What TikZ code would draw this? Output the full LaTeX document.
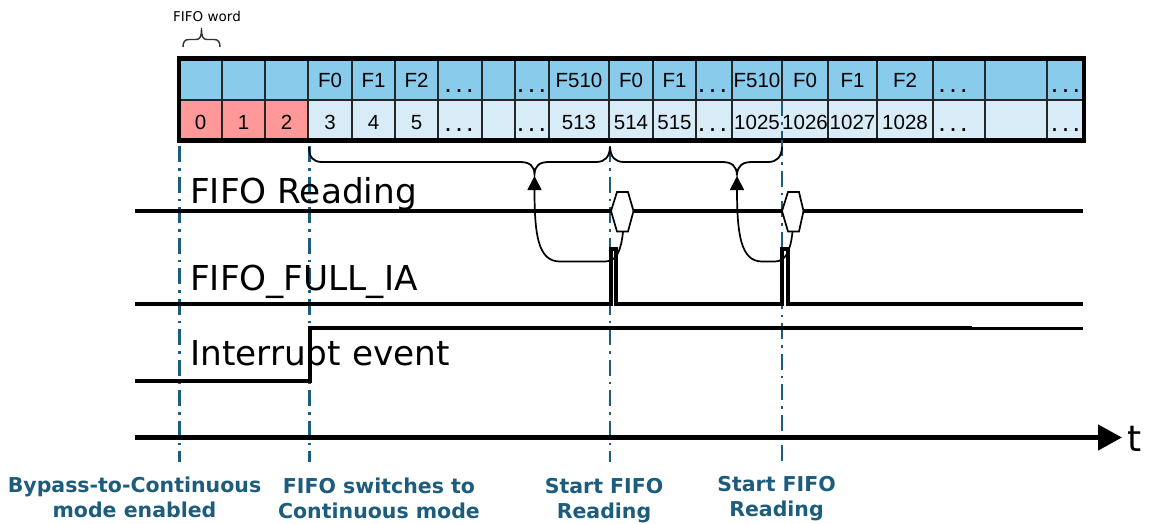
\documentclass[tikz,border=0pt]{standalone}
\usepackage{fontspec}
\setmainfont{DejaVu Sans}
\newfontfamily\arialf{Liberation Sans}
\usetikzlibrary{arrows.meta}
\definecolor{topblue}{RGB}{137,203,234}
\definecolor{lowblue}{RGB}{216,236,247}
\definecolor{redcell}{RGB}{255,153,153}
\definecolor{mteal}{RGB}{28,92,125}
\newcommand{\mydots}{{\fontsize{27}{27}\selectfont.\kern3.3pt.\kern3.3pt.}}
\begin{document}
\begin{tikzpicture}[x=1pt,y=-1pt,
  gridl/.style={draw=black!85, line width=1.8pt},
  outer/.style={draw=black, line width=4.8pt},
  cellt/.style={font=\arialf\fontsize{20.5}{20.5}\selectfont, anchor=base, inner sep=0pt},
  sig/.style={line width=4pt, line cap=butt, line join=miter},
  hexs/.style={draw=black, line width=1.7pt, fill=white, line join=miter},
  vline/.style={draw=mteal, line width=2.3pt, dash pattern=on 16pt off 6pt on 2.5pt off 6pt},
  bracel/.style={draw=black, line width=1.8pt},
  curvarr/.style={line width=1.7pt, -{Triangle[length=14pt,width=14pt]}},
  signame/.style={font=\fontsize{34.3}{34.3}\selectfont, anchor=base west, inner sep=0pt},
  lab/.style={font=\bfseries\fontsize{20.5}{25}\selectfont, text=mteal, align=center, anchor=base, inner sep=0pt}
]
\useasboundingbox (0,0) rectangle (1152,523);

% ---- FIFO word label and small brace
\node[font=\fontsize{13.5}{13.5}\selectfont, anchor=base west, inner sep=0pt] (fw) at (173,21.7) {FIFO word};
\draw[draw=black!80, line width=1.4pt] (183,47) .. controls (183,41.5) and (185,39.5) .. (189,39.5) -- (196,39.5)
  .. controls (200,39.5) and (201.5,37) .. (201.5,28)
  .. controls (201.5,37) and (203,39.5) .. (207,39.5) -- (214,39.5)
  .. controls (218,39.5) and (220,41.5) .. (220,47);

% ---- table
\fill[topblue] (179,58.5) rectangle (1084,100);
\fill[lowblue] (179,100) rectangle (1084,140.5);
\fill[redcell] (179,100) rectangle (308,140.5);
% dashed marker inside the table
\draw[vline] (782,100) -- (782,140);
\draw[gridl] (179,100) -- (1084,100);
\foreach \x in {222,265,308,352,395,438,482,515,549,609,653,696,732,828,877,933,985,1047}
  \draw[gridl] (\x,58.5) -- (\x,140.5);
\draw[gridl] (782,58.5) -- (782,100);
\draw[outer] (179,58.5) rectangle (1084,140.5);

\foreach \n/\x/\s in {t3/330/F0, t4/373.5/F1, t5/416.5/F2, t9/579/F510, t10/631/F0, t11/674.5/F1,
    t13/757/F510, t14/805/F0, t15/852.5/F1, t16/905/F2}
  \node[cellt] (\n) at (\x,87) {\s};
\foreach \n/\x/\s in {b0/200.5/0, b1/243.5/1, b2/286.5/2, b3/330/3, b4/373.5/4, b5/416.5/5,
    b9/579/513, b10/631/514, b11/674.5/515, b13/757/1025, b14/805/1026, b15/852.5/1027, b16/905/1028}
  \node[cellt] (\n) at (\x,129.5) {\s};
\foreach \n/\x in {6/459, 8/531.5, 12/712.5, 17/953, 19/1065.5}{
  \node[cellt] (td\n) at (\x,92) {\mydots};
  \node[cellt] (bd\n) at (\x,131.5) {\mydots};
}

% ---- vertical dash-dot markers
\draw[vline] (179.5,146) -- (179.5,462);
\draw[vline] (309.5,146) -- (309.5,462);
\draw[vline] (610,146) -- (610,462);
\draw[vline] (782,140) -- (782,462);

% ---- big braces
\coordinate (tip1) at (534.5,176);
\coordinate (tip2) at (737,176);
\draw[bracel] (309,147) .. controls (309,157) and (313,162) .. (322,162) -- (520,162)
  .. controls (530,162) and (534,166) .. (534.5,174)
  .. controls (535,166) and (539,162) .. (549,162) -- (596,162)
  .. controls (605,162) and (609.5,157) .. (610,147);
\draw[bracel] (610,147) .. controls (610.5,157) and (615,162) .. (624,162) -- (722,162)
  .. controls (732,162) and (736,166) .. (737,174)
  .. controls (738,166) and (742,162) .. (752,162) -- (768,162)
  .. controls (777,162) and (781.5,157) .. (782,147);

% ---- signal names
\node[signame] (nread) at (190,203.3) {FIFO Reading};
\node[signame] (nfull) at (190,290) {FIFO\_FULL\_IA};
\node[signame] (nint) at (190,365) {Interrupt event};

% ---- FIFO reading signal
\draw[sig] (135,211) -- (1083,211);
\draw[hexs] (611,211) -- (617,192) -- (628,192) -- (633.5,211) -- (628,231.5) -- (617,231.5) -- cycle;
\draw[hexs] (782,211) -- (788,192) -- (799,192) -- (803.5,211) -- (799,231.5) -- (788,231.5) -- cycle;
\coordinate (h1) at (623,232);
\coordinate (h2) at (792.5,232);

% ---- FIFO_FULL_IA signal
\draw[sig] (135,304) -- (610.5,304) -- (610.5,248.5) -- (615.5,248.5) -- (615.5,304) -- (782,304)
  -- (782,248.5) -- (788,248.5) -- (788,304) -- (1083,304);

% ---- interrupt signal
\draw[sig] (135,381) -- (309.5,381) -- (309.5,327.5) -- (972,327.5);
\draw[line width=2.8pt] (972,328.3) -- (1083,328.3);

% ---- curved arrows
\draw[curvarr] (h1) .. controls (621,250) and (617,261.5) .. (605,261.5)
  -- (560,261.5) .. controls (538,261.5) and (534.5,235) .. (tip1);
\draw[curvarr] (h2) .. controls (790.5,250) and (786,261.5) .. (775,261.5)
  -- (762,261.5) .. controls (741,261.5) and (737,235) .. (tip2);

% ---- time axis
\coordinate (ax0) at (135,437.5);
\coordinate (ax1) at (1122,437.5);
\draw[line width=4.5pt, -{Triangle[length=24pt,width=25pt]}] (ax0) -- (ax1);
\node[font=\fontsize{36}{36}\selectfont, anchor=base west, inner sep=0pt] (tlab) at (1127,451) {t};

% ---- bottom labels (base anchor = last line baseline)
\node[lab] (l1) at (134.5,517.5) {Bypass-to-Continuous\\mode enabled};
\node[lab] (l2) at (379,518) {FIFO switches to\\Continuous mode};
\node[lab] (l3) at (604,518.3) {Start FIFO\\Reading};
\node[lab] (l4) at (776.5,516) {Start FIFO\\Reading};
\end{tikzpicture}
\end{document}
